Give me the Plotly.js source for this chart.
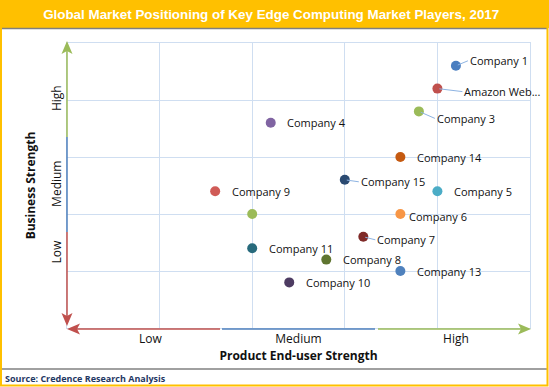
<!DOCTYPE html>
<html>
<head>
<meta charset="utf-8">
<script src="https://cdn.plot.ly/plotly-3.0.1.min.js"></script>
<style>html,body{margin:0;padding:0;background:#fff;}#chart{width:549px;height:387px;}</style>
</head>
<body>
<div id="chart"></div>
<script>
// ---- Data ----
const companies = ["Company 1","Amazon Web...","Company 3","Company 4","Company 14","Company 15","Company 9","Company 5","","Company 6","Company 7","Company 11","Company 8","Company 13","Company 10"];
const productStrength  = [4.2, 4.0, 3.8, 2.2, 3.6, 3.0, 1.6, 4.0, 2.0, 3.6, 3.2, 2.0, 2.8, 3.6, 2.4];
const businessStrength = [4.6, 4.2, 3.8, 3.6, 3.0, 2.6, 2.4, 2.4, 2.0, 2.0, 1.6, 1.4, 1.2, 1.0, 0.8];
const xTickVals = [0.9, 2.5, 4.2];
const yTickVals = [1.3, 2.5, 4.0];
const levelLabels = ["Low", "Medium", "High"];

// ---- Styles ----
const colors = ["#4A7EC0","#C0504D","#9BBB59","#8064A2","#C55A11","#2A4A72","#D05B57","#4BACC6","#9BBB59","#F79646","#7F2A28","#276A7C","#5F7530","#4F81BD","#4D3B62"];
const labelOffsets = [[12,-5],[25,3],[16,7],[14,0],[15,0],[14,2],[15,0],[15,0],[0,0],[7,2],[12,3],[15,0],[15,0],[15,0],[15,0]];
const hasLeader = [true,true,true,false,false,true,false,false,false,false,true,false,false,false,false];

const W = 549, H = 387, L = 67, R = 19, T = 43, B = 59;
const pw = W - L - R, ph = H - T - B;
const px = x => (x - L) / pw;
const py = y => (H - B - y) / ph;
const FONT = "Open Sans, Noto Sans, sans-serif";

const trace = {
  type: "scatter", mode: "markers",
  x: productStrength, y: businessStrength,
  marker: { size: 10, color: colors, line: { width: 0 } },
  hoverinfo: "skip", showlegend: false, cliponaxis: false
};

const annotations = companies.map((c, i) => c ? ({
  x: productStrength[i], y: businessStrength[i], xref: "x", yref: "y",
  text: c, showarrow: true, arrowhead: 0, arrowwidth: 1,
  arrowcolor: hasLeader[i] ? "#8DB3E2" : "rgba(0,0,0,0)",
  ax: labelOffsets[i][0], ay: labelOffsets[i][1],
  xanchor: "left", yanchor: "middle", standoff: 2,
  font: { family: FONT, size: 11, color: "#111" }
}) : null).filter(a => a);

annotations.push({
  xref: "paper", yref: "paper", x: px(3), y: py(378), xanchor: "left", yanchor: "middle",
  text: "<b>Source: Credence Research Analysis</b>", showarrow: false,
  font: { family: FONT, size: 9, color: "#1F3864" }
});

function seg(x0, y0, x1, y1, color, w) {
  return { type: "line", xref: "paper", yref: "paper", x0: px(x0), y0: py(y0), x1: px(x1), y1: py(y1),
           line: { color: color, width: w }, layer: "above" };
}
function tri(pts, color) {
  const d = "M " + pts.map(p => px(p[0]) + "," + py(p[1])).join(" L ") + " Z";
  return { type: "path", xref: "paper", yref: "paper", path: d, fillcolor: color, line: { width: 0 }, layer: "above" };
}
const RED = "#C0504D", BLUE = "#4F81BD", GREEN = "#9BBB59";
const shapes = [
  { type: "rect", xref: "paper", yref: "paper", x0: px(0), x1: px(549), y0: py(0), y1: py(28), fillcolor: "#FFC000", line: { width: 0 }, layer: "below" },
  seg(1, 28.5, 547, 28.5, "#7F7F7F", 1.5),
  seg(1, 369, 547, 369, "#808080", 1.5),
  { type: "rect", xref: "paper", yref: "paper", x0: px(1), x1: px(547.5), y0: py(1), y1: py(385.5), line: { color: "#FFC000", width: 2 }, fillcolor: "rgba(0,0,0,0)", layer: "above" },
  // vertical axis arrow
  seg(67, 50, 67, 137, GREEN, 1.5),
  seg(67, 137, 67, 232, BLUE, 1.5),
  seg(67, 232, 67, 320, RED, 1.5),
  tri([[67, 41], [61.5, 54], [67, 51], [72.5, 54]], GREEN),
  tri([[67, 326], [61.5, 313], [67, 316], [72.5, 313]], RED),
  // horizontal axis arrow
  seg(74, 329, 220, 329, RED, 1.5),
  seg(222, 329, 375, 329, BLUE, 1.5),
  seg(378, 329, 524, 329, GREEN, 1.5),
  tri([[67, 329], [80, 323.5], [77, 329], [80, 334.5]], RED),
  tri([[531, 329], [518, 323.5], [521, 329], [518, 334.5]], GREEN)
];

const grid = "#CFDEF1";
const layout = {
  width: W, height: H,
  margin: { l: L, r: R, t: T, b: B, pad: 0 },
  paper_bgcolor: "#fff", plot_bgcolor: "#fff",
  font: { family: FONT, color: "#111" },
  title: { text: "<b>Global Market Positioning of Key Edge Computing Market Players, 2017</b>",
           font: { family: "Liberation Sans, Arial, sans-serif", size: 13.4, color: "#fff" },
           xref: "container", x: 0.494, xanchor: "center", yref: "container", y: 1 - 14.5 / H, yanchor: "middle" },
  xaxis: {
    range: [0, 5], fixedrange: true, zeroline: false,
    tickmode: "array", tickvals: xTickVals, ticktext: levelLabels, ticks: "", showgrid: false,
    minor: { tickmode: "array", tickvals: [1, 2, 3, 4], showgrid: true, gridcolor: grid, gridwidth: 1, ticks: "" },
    showline: true, mirror: true, linecolor: grid, linewidth: 1,
    tickfont: { family: FONT, size: 12, color: "#111" },
    title: { text: "<b>Product End-user Strength</b>", font: { family: FONT, size: 12, color: "#111" }, standoff: 2 }
  },
  yaxis: {
    range: [0, 5], fixedrange: true, zeroline: false,
    tickmode: "array", tickvals: yTickVals, ticktext: levelLabels, ticks: "", showgrid: false, tickangle: -90,
    minor: { tickmode: "array", tickvals: [1, 2, 3, 4], showgrid: true, gridcolor: grid, gridwidth: 1, ticks: "" },
    showline: true, mirror: true, linecolor: grid, linewidth: 1,
    tickfont: { family: FONT, size: 12, color: "#111" },
    title: { text: "<b>Business Strength</b>", font: { family: FONT, size: 12, color: "#111" }, standoff: 10 }
  },
  shapes: shapes,
  annotations: annotations,
  showlegend: false
};

Plotly.newPlot("chart", [trace], layout, { staticPlot: true, displayModeBar: false });
</script>
</body>
</html>
